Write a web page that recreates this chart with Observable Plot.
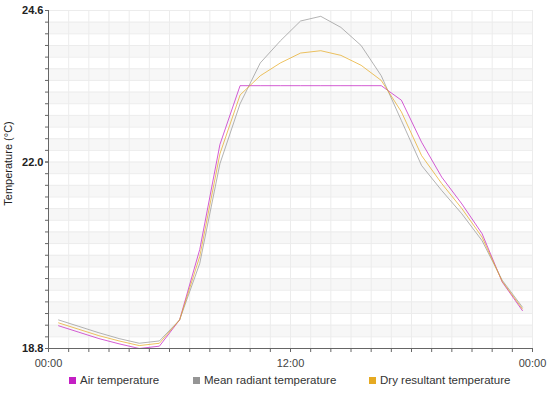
<!DOCTYPE html>
<html>
<head>
<meta charset="utf-8">
<script src="https://cdn.jsdelivr.net/npm/d3@7"></script>
<script src="https://cdn.jsdelivr.net/npm/@observablehq/plot@0.6"></script>
<style>
  html, body { margin: 0; padding: 0; background: #fff; }
  #chart { width: 550px; }
  .legend { position: relative; width: 550px; height: 21px; font-family: "Liberation Sans", Arial, sans-serif; font-size: 11.5px; color: #333; }
  .legend .item { position: absolute; top: 2px; white-space: nowrap; }
  .legend .sw { display: inline-block; width: 7px; height: 7px; margin-right: 4px; vertical-align: 0px; }
</style>
</head>
<body>
<div id="chart"></div>
<script>
// Half-hourly sample times (hours after midnight)
const hours = [0.5, 1.5, 2.5, 3.5, 4.5, 5.5, 6.5, 7.5, 8.5, 9.5, 10.5, 11.5,
               12.5, 13.5, 14.5, 15.5, 16.5, 17.5, 18.5, 19.5, 20.5, 21.5, 22.5, 23.5];

const airTemperature = [19.19, 19.08, 18.97, 18.88, 18.80, 18.84, 19.29, 20.50, 22.30, 23.31, 23.31, 23.31,
                        23.31, 23.31, 23.31, 23.31, 23.31, 23.06, 22.34, 21.74, 21.28, 20.77, 19.94, 19.45];

const meanRadiantTemperature = [19.29, 19.18, 19.07, 18.97, 18.89, 18.93, 19.29, 20.26, 21.97, 23.00, 23.70, 24.08,
                                24.42, 24.50, 24.31, 24.00, 23.48, 22.71, 21.94, 21.51, 21.11, 20.65, 19.97, 19.51];

const dryResultantTemperature = [19.24, 19.13, 19.02, 18.93, 18.85, 18.89, 19.29, 20.38, 22.14, 23.15, 23.48, 23.70,
                                 23.87, 23.91, 23.83, 23.66, 23.40, 22.86, 22.11, 21.63, 21.20, 20.71, 19.95, 19.48];

const seriesNames = ["Air temperature", "Mean radiant temperature", "Dry resultant temperature"];
const seriesColors = ["#c41fc4", "#959595", "#e6aa22"];

const xTickValues = [0, 12, 24];
const xTickLabels = ["00:00", "12:00", "00:00"];
const yTickValues = [18.8, 22.0, 24.6];
const yTickLabels = ["18.8", "22.0", "24.6"];

const yMin = 18.8, yMax = 24.6, yStep = 0.2;

// Build long table
const seriesValues = [airTemperature, meanRadiantTemperature, dryResultantTemperature];
const rows = [];
seriesNames.forEach((name, s) => {
  hours.forEach((h, i) => rows.push({hour: h, value: seriesValues[s][i], series: name}));
});

const nSteps = Math.round((yMax - yMin) / yStep);
const gridY = d3.range(0, nSteps + 1).map(i => +(yMin + i * yStep).toFixed(1));
const bands = d3.range(1, nSteps, 2).map(i => +(yMin + i * yStep).toFixed(1));
const gridX = d3.range(0, 25);

const xLabelMap = new Map(xTickValues.map((v, i) => [v, xTickLabels[i]]));
const yLabelMap = new Map(yTickValues.map((v, i) => [v, yTickLabels[i]]));

const chart = Plot.plot({
  width: 550,
  height: 372,
  marginLeft: 48,
  marginRight: 18,
  marginTop: 10,
  marginBottom: 24,
  style: {fontFamily: "Liberation Sans, Arial, sans-serif", fontSize: "11px", background: "#fff"},
  x: {domain: [0, 24]},
  y: {domain: [yMin, yMax]},
  color: {domain: seriesNames, range: seriesColors},
  marks: [
    Plot.rect(bands, {x1: () => 0, x2: () => 24, y1: d => d, y2: d => d + yStep, fill: "#f7f7f7"}),
    Plot.ruleY(gridY, {stroke: "#ececec", strokeWidth: 1}),
    Plot.ruleX(gridX, {stroke: "#ececec", strokeWidth: 1}),
    Plot.line(rows, {x: "hour", y: "value", stroke: "series", z: "series", strokeWidth: 1, strokeOpacity: 0.72}),
    Plot.ruleX([0], {stroke: "#666", strokeWidth: 1}),
    Plot.ruleY([yMin], {stroke: "#666", strokeWidth: 1}),
    Plot.axisX({ticks: gridX, tickSize: 4, tickPadding: 7, stroke: "#666",
      tickFormat: d => xLabelMap.get(d) ?? "", fill: "#444", fontSize: 11, label: null}),
    Plot.axisY({ticks: gridY, tickSize: 3, stroke: "#666", tickFormat: () => "", label: null}),
    Plot.axisY({ticks: yTickValues, tickSize: 3, tickPadding: 2, stroke: "#666",
      tickFormat: d => yLabelMap.get(+d.toFixed(1)) ?? "", fill: "#222", fontWeight: "bold", fontSize: 11, label: null}),
    Plot.text(["Temperature (°C)"], {frameAnchor: "left", dx: -40, dy: -16, rotate: -90,
      fill: "#222", fontSize: 11, textAnchor: "middle"})
  ]
});
document.getElementById("chart").appendChild(chart);

// Legend below the SVG
const legendLeft = [69, 193, 369];
const legend = document.createElement("div");
legend.className = "legend";
seriesNames.forEach((name, i) => {
  const item = document.createElement("span");
  item.className = "item";
  item.style.left = legendLeft[i] + "px";
  const sw = document.createElement("span");
  sw.className = "sw";
  sw.style.background = seriesColors[i];
  item.appendChild(sw);
  item.appendChild(document.createTextNode(name));
  legend.appendChild(item);
});
document.body.appendChild(legend);
</script>
</body>
</html>
